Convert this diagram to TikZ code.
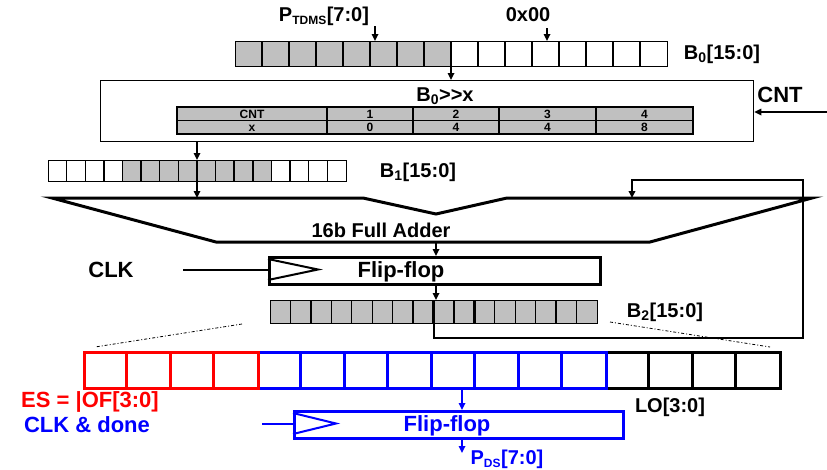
\documentclass[tikz,border=0pt]{standalone}
\usepackage{fontspec}
\setmainfont{Liberation Sans}
\usetikzlibrary{arrows.meta}
\definecolor{cellgray}{HTML}{C0C0C0}
\definecolor{ffblue}{HTML}{0000FF}
\definecolor{ffred}{HTML}{FF0000}
\begin{document}
\begin{tikzpicture}[x=1pt,y=-1pt,
  lbl/.style={font=\fontsize{20}{20}\selectfont\bfseries, inner sep=0pt, text height=14pt, text depth=0pt},
  big/.style={font=\fontsize{22}{22}\selectfont\bfseries, inner sep=0pt, text height=15.5pt, text depth=0pt},
  tbl/.style={font=\fontsize{12}{12}\selectfont\bfseries, inner sep=0pt, text height=8.6pt, text depth=0pt},
  regbox/.style={draw, line width=1.3pt, inner sep=0pt, anchor=north west},
  cellln/.style={line width=1.3pt},
  boldln/.style={line width=2.4pt},
  arr/.style={line width=1.6pt, -{Triangle[length=7pt,width=6.5pt]}},
  heavy/.style={line width=3pt, line join=miter},
  ffbox/.style={draw, line width=3pt, inner sep=0pt, anchor=north west},
  dd/.style={line width=0.8pt, dash pattern=on 3pt off 2pt on 1pt off 2pt},
]
\useasboundingbox (0,0) rectangle (827,469);
\fill[white] (0,0) rectangle (827,469);

% ---------- B0 register ----------
\fill[cellgray] (235,41) rectangle (451,66);
\node[regbox, minimum width=432pt, minimum height=25pt] (B0) at (235,41) {};
\foreach \i in {1,...,15} \draw[cellln] (235+27*\i,41) -- (235+27*\i,66);
\node[lbl] (ptdms) at (324,14) {P\textsubscript{\fontsize{12}{12}\selectfont TDMS}[7:0]};
\node[lbl] (zero) at (528,14) {0x00};
\node[lbl] (b0lbl) at (722,52) {B\textsubscript{0}[15:0]};
\coordinate (pa) at (375,26);
\draw[arr] (pa) -- (pa |- B0.north);
\coordinate (za) at (547,28);
\draw[arr] (za) -- (za |- B0.north);

% ---------- shift box ----------
\node[draw, line width=1.3pt, minimum width=653pt, minimum height=61pt, inner sep=0pt, anchor=north west] (shift) at (100,80) {};
\node[lbl] (shtitle) at (445,94) {B\textsubscript{0}{>}{>}x};
\coordinate (b0o) at (451,66);
\draw[arr] (b0o) -- (b0o |- shift.north);
% table
\fill[cellgray] (177,107) rectangle (693,134);
\draw[cellln] (177,107) rectangle (693,134);
\draw[cellln] (177,120.5) -- (693,120.5);
\foreach \c in {327,413,499,596} \draw[cellln] (\c,107) -- (\c,134);
\node[tbl] (t11) at (252,113.8) {CNT};
\node[tbl] (t12) at (370,113.8) {1};
\node[tbl] (t13) at (456,113.8) {2};
\node[tbl] (t14) at (547.5,113.8) {3};
\node[tbl] (t15) at (644.5,113.8) {4};
\node[tbl] (t21) at (252,127.3) {x};
\node[tbl] (t22) at (370,127.3) {0};
\node[tbl] (t23) at (456,127.3) {4};
\node[tbl] (t24) at (547.5,127.3) {4};
\node[tbl] (t25) at (644.5,127.3) {8};
% CNT input
\node[big] (cnt) at (780,95) {CNT};
\coordinate (cntS) at (827,112);
\draw[arr] (cntS) -- (cntS -| shift.east);

% ---------- B1 register ----------
\fill[cellgray] (123,160) rectangle (272,181);
\node[regbox, minimum width=298pt, minimum height=21pt] (B1) at (48,160) {};
\foreach \i in {1,...,15} \draw[cellln] (48+18.625*\i,160) -- (48+18.625*\i,181);
\draw[boldln] (234.25,160) -- (234.25,181);
\node[lbl] (b1lbl) at (418,170) {B\textsubscript{1}[15:0]};
\coordinate (s1) at (197,141);
\draw[arr] (s1) -- (s1 |- B1.north);
\draw[boldln] (197,160) -- (197,181);
\coordinate (b1o) at (197,181);
\coordinate (addA) at (197,198);
\draw[arr] (b1o) -- (addA);

% ---------- adder ----------
\draw[heavy] (52,198) -- (363,198) -- (436,214) -- (507,198) -- (812,198) -- (650,242) -- (216,242) -- cycle;
\node[lbl] (addlbl) at (381,230) {16b Full Adder};
\coordinate (addO) at (436,242);

% ---------- Flip-flop 1 ----------
\node[ffbox, minimum width=331pt, minimum height=27pt] (FF1) at (268,256) {};
\draw[line width=2pt] (268,259) -- (318,269.5) -- (268,280);
\node[big] (ff1lbl) at (401,269.5) {Flip-flop};
\draw[arr] (addO) -- (addO |- FF1.north);
\node[big] (clk) at (111,269.5) {CLK};
\coordinate (clkS) at (183,269.5);
\draw[line width=2pt] (clkS) -- (clkS -| FF1.west);

% ---------- B2 register ----------
\fill[cellgray] (270,300) rectangle (597,323);
\node[regbox, minimum width=327pt, minimum height=23pt] (B2) at (270,300) {};
\foreach \i in {1,...,15} \draw[cellln] (270+20.4375*\i,300) -- (270+20.4375*\i,323);
\foreach \i in {2,8,10} \draw[boldln] (270+20.4375*\i,300) -- (270+20.4375*\i,323);
\node[lbl] (b2lbl) at (665,310) {B\textsubscript{2}[15:0]};
\coordinate (ffo) at (436,283);
\draw[arr] (ffo) -- (ffo |- B2.north);

% feedback path
\coordinate (fb0) at (433.5,323);
\coordinate (fbT) at (632,198);
\draw[line width=2pt, -{Triangle[length=7pt,width=6.5pt]}] (fb0) -- (433.5,338) -- (803,338) -- (803,180) -- (632,180) -- (fbT);

% zoom guide lines
\draw[dd] (242,324) -- (95,347);
\draw[dd] (610,322) -- (770,347);

% ---------- bottom register ----------
\node[draw=black, line width=3pt, minimum width=174pt, minimum height=36pt, inner sep=0pt, anchor=north west] (LO) at (605,351) {};
\foreach \i in {1,2,3} \draw[line width=3pt] (605+43.5*\i,351) -- (605+43.5*\i,387);
\node[draw=ffblue, line width=3pt, minimum width=348pt, minimum height=36pt, inner sep=0pt, anchor=north west] (MID) at (257,351) {};
\foreach \i in {1,...,7} \draw[ffblue, line width=3pt] (257+43.5*\i,351) -- (257+43.5*\i,387);
\node[draw=ffred, line width=3pt, minimum width=174pt, minimum height=36pt, inner sep=0pt, anchor=north west] (OF) at (83,351) {};
\foreach \i in {1,2,3} \draw[ffred, line width=3pt] (83+43.5*\i,351) -- (83+43.5*\i,387);

\node[big, text=ffred] (eslbl) at (90,400) {ES = |OF[3:0]};
\node[big, text=ffblue] (clkdone) at (87,425) {CLK \& done};
\node[lbl] (lolbl) at (670,405) {LO[3:0]};

% ---------- Flip-flop 2 ----------
\node[ffbox, draw=ffblue, minimum width=329pt, minimum height=27pt] (FF2) at (293,410) {};
\draw[ffblue, line width=2pt] (293,413) -- (336,423.5) -- (293,434);
\node[big, text=ffblue] (ff2lbl) at (447,423.5) {Flip-flop};
\coordinate (mo) at (462,387);
\draw[arr, ffblue] (mo) -- (mo |- FF2.north);
\coordinate (cdS) at (262,423.5);
\draw[ffblue, line width=2pt] (cdS) -- (cdS -| FF2.west);
\coordinate (f2o) at (462,437);
\coordinate (f2e) at (462,453);
\draw[arr, ffblue] (f2o) -- (f2e);
\node[lbl, text=ffblue] (pds) at (507,457) {P\textsubscript{\fontsize{12}{12}\selectfont DS}[7:0]};
\end{tikzpicture}
\end{document}
